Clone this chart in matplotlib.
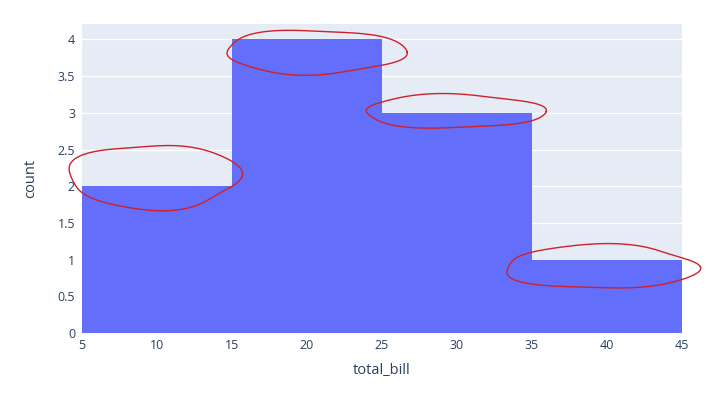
import numpy as np
import matplotlib
matplotlib.use("Agg")
import matplotlib.pyplot as plt
from matplotlib.ticker import FuncFormatter, MultipleLocator

# data
bin_edges = [5, 15, 25, 35, 45]
counts = [2, 4, 3, 1]
x_label = "total_bill"
y_label = "count"

BAR = "#636EFA"
BG = "#E5ECF6"
FONT = "#2a3f5f"

plt.rcParams['font.family'] = ['Open Sans', 'DejaVu Sans']

fig = plt.figure(figsize=(7.23, 3.96), dpi=100)
ax = fig.add_axes([82/723, 1-333/396, 600/723, (333-24)/396])
ax.set_facecolor(BG)

lefts = np.array(bin_edges[:-1])
widths = np.diff(bin_edges)
ax.bar(lefts, counts, width=widths, align="edge", color=BAR, linewidth=0, zorder=2)

ax.set_xlim(bin_edges[0], bin_edges[-1])
ax.set_ylim(0, max(counts) * 1.0526)
ax.yaxis.set_major_locator(MultipleLocator(0.5))
ax.xaxis.set_major_locator(MultipleLocator(5))
ax.yaxis.set_major_formatter(FuncFormatter(lambda v, p: f"{v:g}"))
ax.grid(axis="y", color="white", linewidth=1, zorder=1)
ax.set_axisbelow(True)
for s in ax.spines.values():
    s.set_visible(False)
ax.tick_params(length=0, labelsize=9, colors=FONT, pad=5)
ax.tick_params(axis="x", pad=4)
ax.set_xlabel(x_label, fontsize=10.5, color=FONT, labelpad=8)
ax.set_ylabel(y_label, fontsize=10.5, color=FONT, labelpad=14)

# red hand-drawn loops around each bar top (style offsets relative to bar)
loop_dx = [-0.2, 0.5, -0.2, -0.4]
loop_dy = [0.13, -0.17, 0.02, -0.1]
loop_rx = [5.7, 6.0, 6.0, 6.4]
loop_ry = [0.44, 0.30, 0.23, 0.30]
t = np.linspace(0, 2*np.pi, 200)
for i, c in enumerate(counts):
    cx = (bin_edges[i] + bin_edges[i+1]) / 2 + loop_dx[i]
    cy = c + loop_dy[i]
    wob = 1 + 0.05*np.sin(3*t + i) + 0.03*np.cos(5*t + 2*i)
    xs = cx + loop_rx[i]*np.cos(t)*wob
    ys = cy + loop_ry[i]*np.sin(t)*wob
    ax.plot(xs, ys, color="#d0202a", linewidth=1, clip_on=False, zorder=5)

fig.savefig("out.png", dpi=100, facecolor="white")
